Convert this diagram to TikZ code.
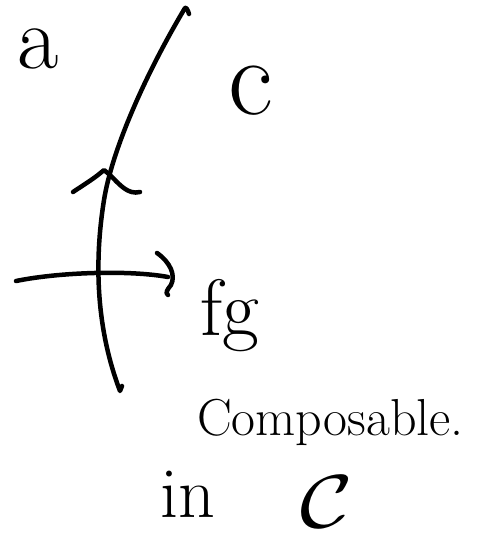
\documentclass[tikz,border=0pt]{standalone}
\begin{document}
\begin{tikzpicture}[x=1pt,y=-1pt,
  ink/.style={line width=4.5pt, line cap=round, line join=round},
  lbl/.style={inner sep=0pt, anchor=base west}]
\useasboundingbox (0,0) rectangle (499,533);
% wire
\coordinate (wtop) at (185,8);
\coordinate (wmid) at (104,200);
\coordinate (wbot) at (120,391);
\draw[ink] (189,14) .. controls (188,10) and (186,7) .. (wtop)
  .. controls (145,75) and (112,150) .. (wmid)
  .. controls (96,250) and (93,320) .. (wbot) -- (122,386);
% arrowhead on wire
\coordinate (ahl) at (73,192);
\coordinate (aht) at (104,170);
\coordinate (ahr) at (140,192);
\draw[ink] (ahl) .. controls (85,184) and (95,178) .. (aht) -- (110,175)
  .. controls (120,185) and (128,195) .. (ahr);
% horizontal arrow
\coordinate (hl) at (16,281);
\coordinate (hr) at (168,277);
\draw[ink] (hl) .. controls (60,272) and (130,270) .. (hr);
\draw[ink] (157,253) .. controls (170,262) and (176,275) .. (171,285)
  .. controls (167,290) and (165,293) .. (168,295);
% labels
\node[lbl, text height=40pt, text depth=0pt, font=\fontsize{90}{90}\selectfont] (a) at (17,68) {a};
\node[lbl, text height=50pt, text depth=0pt, font=\fontsize{110}{110}\selectfont] (c) at (228,114) {c};
\node[lbl, font=\fontsize{80}{80}\selectfont] (fg) at (200,335) {fg};
\node[lbl, font=\fontsize{52}{52}\selectfont] (comp) at (197,435) {Composable.};
\node[lbl, font=\fontsize{72}{72}\selectfont] (in) at (160,517) {in};
\node[lbl] (cat) at (300,527) {\scalebox{9}[7.5]{$\mathcal{C}$}};
\end{tikzpicture}
\end{document}
